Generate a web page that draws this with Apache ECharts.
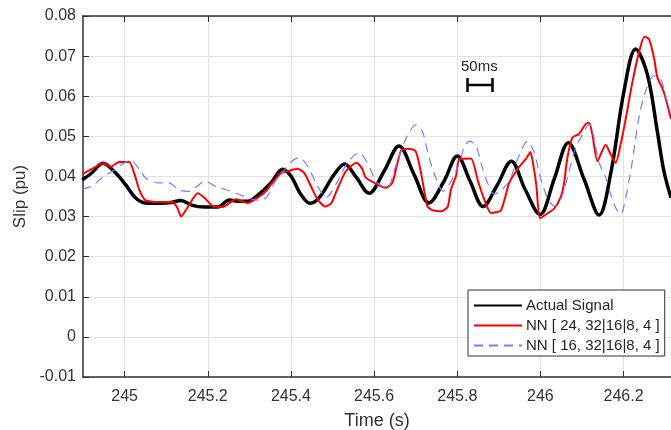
<!DOCTYPE html>
<html>
<head>
<meta charset="utf-8">
<script src="https://cdn.jsdelivr.net/npm/echarts@6/dist/echarts.min.js"></script>
<style>
html, body { margin: 0; padding: 0; background: #fff; }
#chart { width: 671px; height: 430px; }
</style>
</head>
<body>
<div id="chart"></div>
<script>
// tick labels
var xTicks = [245, 245.2, 245.4, 245.6, 245.8, 246, 246.2];

// Actual Signal
var actualT = [244.898, 244.920, 244.948, 244.978, 245.002, 245.026, 245.050, 245.083, 245.112, 245.135,
	245.163, 245.192, 245.224, 245.252, 245.276, 245.300, 245.320, 245.352, 245.380, 245.400,
	245.424, 245.446, 245.468, 245.504, 245.529, 245.557, 245.588, 245.624, 245.660, 245.696,
	245.732, 245.768, 245.800, 245.831, 245.862, 245.896, 245.930, 245.963, 245.999, 246.033,
	246.067, 246.105, 246.141, 246.170, 246.201, 246.229, 246.257, 246.281, 246.297, 246.314];
var actualY = [0.0391, 0.0408, 0.0433, 0.0409, 0.0380, 0.0347, 0.0334, 0.0333, 0.0335, 0.0340,
	0.0328, 0.0324, 0.0324, 0.0341, 0.0338, 0.0339, 0.0353, 0.0384, 0.0418, 0.0401,
	0.0355, 0.0333, 0.0347, 0.0405, 0.0431, 0.0398, 0.0358, 0.0413, 0.0476, 0.0405,
	0.0334, 0.0388, 0.0451, 0.0388, 0.0325, 0.0378, 0.0438, 0.0368, 0.0305, 0.0393,
	0.0484, 0.0393, 0.0304, 0.0413, 0.0613, 0.0718, 0.0655, 0.0513, 0.0413, 0.0347];

// NN [24, 32|16|8, 4]
var nn24T = [244.898, 244.920, 244.948, 244.966, 244.987, 245.011, 245.023, 245.035, 245.050, 245.083,
	245.115, 245.127, 245.136, 245.151, 245.176, 245.195, 245.212, 245.236, 245.268, 245.296,
	245.320, 245.340, 245.352, 245.376, 245.392, 245.416, 245.432, 245.448, 245.464, 245.482,
	245.497, 245.508, 245.532, 245.558, 245.572, 245.580, 245.612, 245.628, 245.644, 245.665,
	245.684, 245.700, 245.713, 245.728, 245.740, 245.761, 245.777, 245.785, 245.797, 245.805,
	245.833, 245.850, 245.865, 245.881, 245.905, 245.925, 245.945, 245.966, 245.976, 245.983,
	245.990, 245.999, 246.013, 246.033, 246.049, 246.057, 246.065, 246.077, 246.093, 246.109,
	246.117, 246.125, 246.137, 246.157, 246.169, 246.181, 246.193, 246.206, 246.221, 246.237,
	246.250, 246.261, 246.273, 246.281, 246.297, 246.314];
var nn24Y = [0.0405, 0.0418, 0.0433, 0.0424, 0.0436, 0.0436, 0.0409, 0.0368, 0.0341, 0.0336,
	0.0336, 0.0322, 0.0300, 0.0322, 0.0358, 0.0344, 0.0326, 0.0324, 0.0343, 0.0334,
	0.0347, 0.0363, 0.0380, 0.0408, 0.0413, 0.0419, 0.0409, 0.0376, 0.0343, 0.0325,
	0.0333, 0.0359, 0.0413, 0.0434, 0.0418, 0.0397, 0.0378, 0.0372, 0.0384, 0.0465,
	0.0469, 0.0463, 0.0409, 0.0326, 0.0316, 0.0313, 0.0324, 0.0368, 0.0401, 0.0443,
	0.0445, 0.0388, 0.0343, 0.0309, 0.0315, 0.0384, 0.0418, 0.0445, 0.0461, 0.0428,
	0.0380, 0.0295, 0.0305, 0.0320, 0.0349, 0.0384, 0.0447, 0.0497, 0.0506, 0.0531,
	0.0534, 0.0505, 0.0438, 0.0479, 0.0455, 0.0434, 0.0480, 0.0548, 0.0634, 0.0709,
	0.0748, 0.0743, 0.0697, 0.0648, 0.0610, 0.0543];

// NN [16, 32|16|8, 4]
var nn16T = [244.898, 244.922, 244.946, 244.978, 244.994, 245.014, 245.035, 245.052, 245.083, 245.107,
	245.131, 245.156, 245.175, 245.192, 245.224, 245.256, 245.280, 245.308, 245.329, 245.343,
	245.360, 245.380, 245.400, 245.420, 245.440, 245.464, 245.485, 245.508, 245.536, 245.564,
	245.583, 245.607, 245.631, 245.652, 245.676, 245.701, 245.716, 245.732, 245.749, 245.766,
	245.785, 245.805, 245.817, 245.829, 245.845, 245.857, 245.873, 245.889, 245.905, 245.925,
	245.945, 245.969, 245.985, 246.001, 246.017, 246.033, 246.050, 246.069, 246.085, 246.101,
	246.117, 246.125, 246.141, 246.157, 246.169, 246.181, 246.193, 246.205, 246.221, 246.237,
	246.253, 246.273, 246.289, 246.301, 246.314];
var nn16Y = [0.0368, 0.0376, 0.0397, 0.0418, 0.0430, 0.0441, 0.0418, 0.0395, 0.0384, 0.0384,
	0.0366, 0.0363, 0.0376, 0.0388, 0.0373, 0.0363, 0.0353, 0.0343, 0.0341, 0.0350,
	0.0384, 0.0410, 0.0436, 0.0447, 0.0426, 0.0376, 0.0348, 0.0380, 0.0434, 0.0459,
	0.0435, 0.0385, 0.0372, 0.0426, 0.0493, 0.0529, 0.0513, 0.0448, 0.0395, 0.0363,
	0.0388, 0.0433, 0.0473, 0.0488, 0.0476, 0.0434, 0.0384, 0.0356, 0.0365, 0.0388,
	0.0443, 0.0488, 0.0459, 0.0393, 0.0347, 0.0326, 0.0345, 0.0413, 0.0472, 0.0504,
	0.0530, 0.0513, 0.0435, 0.0397, 0.0355, 0.0322, 0.0306, 0.0347, 0.0438, 0.0547,
	0.0613, 0.0651, 0.0643, 0.0601, 0.0555];

function zip(t, y) {
	var out = []
	for (var i = 0; i < t.length; i++) out.push([t[i], y[i]])
	return out
}

var fontFam = 'Liberation Sans, Arial, sans-serif'
var axisColor = '#303030'
var textColor = '#333333'

var mychart = echarts.init(document.getElementById('chart'), null, {renderer: 'canvas'});
var option = {
	animation: false,
	backgroundColor: '#ffffff',
	textStyle: { fontFamily: fontFam },
	grid: { left: 83, right: 0, top: 16, bottom: 53, containLabel: false, outerBoundsMode: 'none' },
	legend: {
		orient: 'vertical',
		left: 468,
		top: 290,
		padding: [8, 5, 3, 5],
		itemWidth: 48,
		itemHeight: 17,
		itemGap: 5,
		backgroundColor: '#ffffff',
		borderColor: '#303030',
		borderWidth: 1,
		itemStyle: { opacity: 0 },
		textStyle: { color: '#262626', fontSize: 15, fontFamily: fontFam, padding: [0, 0, 0, -1] },
		data: ['Actual Signal', 'NN [ 24, 32|16|8, 4 ]', 'NN [ 16, 32|16|8, 4 ]']
	},
	xAxis: [{
		type: 'value',
		min: 244.9,
		max: 246.314,
		name: 'Time (s)',
		nameLocation: 'middle',
		nameGap: 35,
		nameTextStyle: { color: textColor, fontSize: 18, fontFamily: fontFam },
		axisLine: { show: true, onZero: false, lineStyle: { color: axisColor, width: 1.5 } },
		axisTick: { show: true, inside: true, length: 6, customValues: xTicks, lineStyle: { color: axisColor } },
		axisLabel: { customValues: xTicks, color: textColor, fontSize: 16, margin: 12, fontFamily: fontFam,
			formatter: function (v) { return String(Math.round(v * 10) / 10) } },
		splitLine: { show: true, lineStyle: { color: '#e2e2e2', width: 1 } }
	}, {
		type: 'value',
		position: 'top',
		min: 244.9,
		max: 246.314,
		axisLine: { show: true, onZero: false, lineStyle: { color: axisColor, width: 1.5 } },
		axisTick: { show: true, inside: true, length: 6, customValues: xTicks, lineStyle: { color: axisColor } },
		axisLabel: { show: false },
		splitLine: { show: false }
	}],
	yAxis: {
		type: 'value',
		min: -0.01,
		max: 0.08,
		interval: 0.01,
		name: 'Slip (pu)',
		nameLocation: 'middle',
		nameGap: 51,
		nameTextStyle: { color: textColor, fontSize: 17, fontFamily: fontFam },
		axisLine: { show: true, onZero: false, lineStyle: { color: axisColor, width: 1.5 } },
		axisTick: { show: true, inside: true, length: 6, lineStyle: { color: axisColor } },
		axisLabel: { color: textColor, fontSize: 16, margin: 7, fontFamily: fontFam },
		splitLine: { show: true, lineStyle: { color: '#e2e2e2', width: 1 } }
	},
	graphic: [
		{ type: 'text', left: 461, top: 59, style: { text: '50ms', fontSize: 15, fontFamily: fontFam, fill: '#262626' } },
		{ type: 'line', shape: { x1: 467, y1: 85, x2: 493, y2: 85 }, style: { stroke: '#000', lineWidth: 2.5 } },
		{ type: 'line', shape: { x1: 467.5, y1: 78, x2: 467.5, y2: 92 }, style: { stroke: '#000', lineWidth: 2.5 } },
		{ type: 'line', shape: { x1: 492.5, y1: 78, x2: 492.5, y2: 92 }, style: { stroke: '#000', lineWidth: 2.5 } }
	],
	series: [{
		name: 'Actual Signal',
		type: 'line',
		data: zip(actualT, actualY),
		showSymbol: false,
		symbol: 'none',
		smooth: 0.35,
		lineStyle: { color: '#000000', width: 3.5 },
		itemStyle: { color: '#000000' },
		z: 2
	}, {
		name: 'NN [ 24, 32|16|8, 4 ]',
		type: 'line',
		data: zip(nn24T, nn24Y),
		showSymbol: false,
		symbol: 'none',
		smooth: 0.2,
		lineStyle: { color: '#ff0000', width: 2 },
		itemStyle: { color: '#ff0000' },
		z: 3
	}, {
		name: 'NN [ 16, 32|16|8, 4 ]',
		type: 'line',
		data: zip(nn16T, nn16Y),
		showSymbol: false,
		symbol: 'none',
		smooth: 0.3,
		lineStyle: { color: '#7a7aff', width: 1.2, type: [9, 6] },
		itemStyle: { color: '#7a7aff' },
		z: 4
	}]
};
mychart.setOption(option);
</script>
</body>
</html>
